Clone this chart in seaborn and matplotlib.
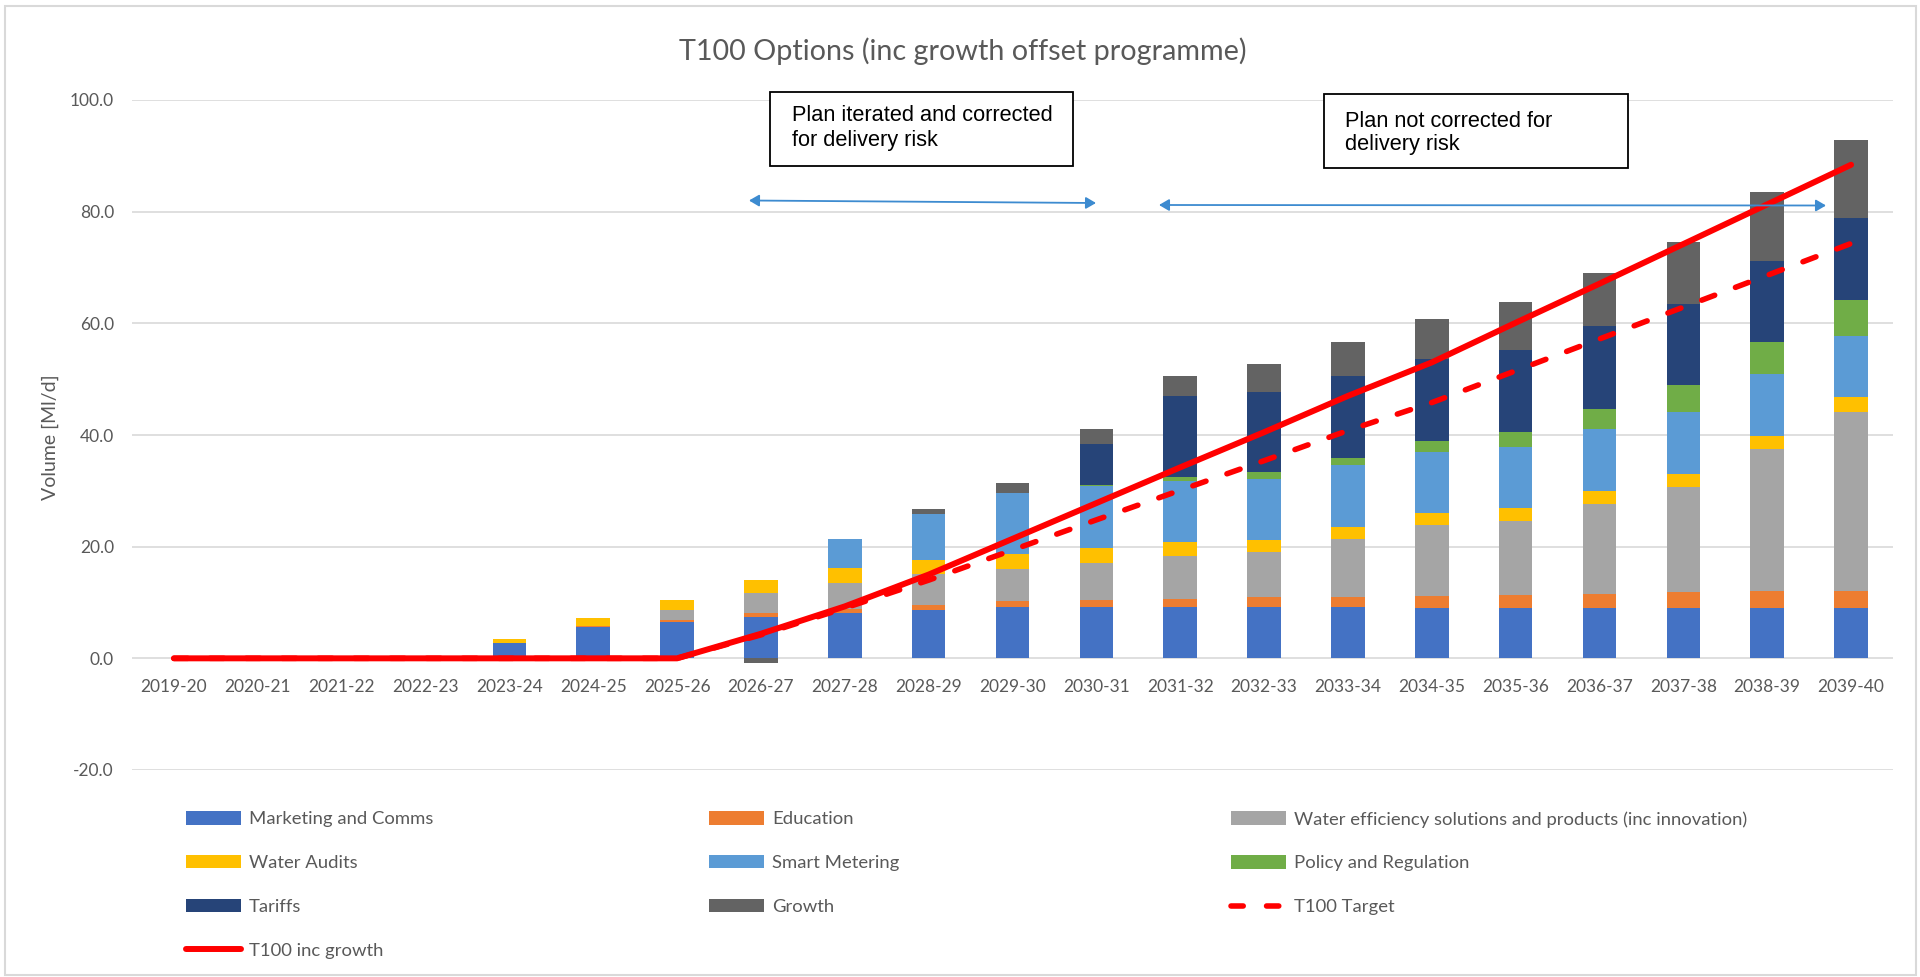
import numpy as np
import matplotlib
matplotlib.use("Agg")
import matplotlib.pyplot as plt
import seaborn as sns
from matplotlib.patches import Rectangle, Patch, FancyArrowPatch
from matplotlib.lines import Line2D
from matplotlib import font_manager as fm

# ---------------- data ----------------
years = ["2019-20", "2020-21", "2021-22", "2022-23", "2023-24", "2024-25", "2025-26",
         "2026-27", "2027-28", "2028-29", "2029-30", "2030-31", "2031-32", "2032-33",
         "2033-34", "2034-35", "2035-36", "2036-37", "2037-38", "2038-39", "2039-40"]

marketing = [0, 0, 0, 0, 2.7, 5.7, 6.5, 7.4, 8.1, 8.7, 9.15, 9.15, 9.15, 9.15, 9.15,
             9.1, 9.1, 9.1, 9.1, 9.1, 9.1]
education = [0, 0, 0, 0, 0, 0.15, 0.4, 0.7, 0.7, 0.9, 1.05, 1.3, 1.5, 1.75, 1.75,
             2.0, 2.2, 2.4, 2.7, 2.9, 2.9]
water_eff = [0, 0, 0, 0, 0, 0, 1.8, 3.6, 4.7, 5.5, 5.75, 6.55, 7.75, 8.1, 10.5,
             12.7, 13.3, 16.1, 18.9, 25.5, 32.1]
audits = [0, 0, 0, 0, 0.7, 1.35, 1.8, 2.3, 2.7, 2.6, 2.65, 2.7, 2.4, 2.25, 2.2,
          2.25, 2.3, 2.35, 2.3, 2.4, 2.7]
smart = [0, 0, 0, 0, 0, 0, 0, 0, 5.2, 8.1, 11.0, 11.2, 11.0, 10.95, 11.0,
         10.95, 11.0, 11.05, 11.1, 11.0, 10.9]
policy = [0, 0, 0, 0, 0, 0, 0, 0, 0, 0, 0, 0.2, 0.7, 1.1, 1.35,
          2.0, 2.7, 3.7, 4.8, 5.7, 6.4]
tariffs = [0, 0, 0, 0, 0, 0, 0, 0, 0, 0, 0, 7.25, 14.4, 14.45, 14.65,
           14.6, 14.7, 14.8, 14.5, 14.5, 14.7]
growth = [0, 0, 0, 0, 0, 0, 0, -0.9, 0, 0.9, 1.75, 2.65, 3.7, 4.9, 6.0,
          7.1, 8.5, 9.6, 11.2, 12.5, 14.1]

t100_target = [0, 0, 0, 0, 0, 0, 0, 4.2, 9.0, 14.0, 19.4, 24.8, 30.1, 35.4, 40.8,
               45.8, 51.5, 57.2, 62.9, 68.6, 74.3]
t100_growth = [0, 0, 0, 0, 0, 0, 0, 4.4, 9.3, 15.0, 21.4, 27.8, 34.2, 40.5, 47.0,
               53.0, 60.1, 67.1, 74.2, 81.3, 88.4]

series_labels = ["Marketing and Comms", "Education",
                 "Water efficiency solutions and products (inc innovation)",
                 "Water Audits", "Smart Metering", "Policy and Regulation",
                 "Tariffs", "Growth"]
series_values = [marketing, education, water_eff, audits, smart, policy, tariffs, growth]
series_colors = ["#4472C4", "#ED7D31", "#A5A5A5", "#FFC000", "#5B9BD5", "#70AD47",
                 "#264478", "#636363"]

title = "T100 Options (inc growth offset programme)"
y_label = "Volume [Ml/d]"
note_left = "Plan iterated and corrected\nfor delivery risk"
note_right = "Plan not corrected for\ndelivery risk"

# ---------------- style ----------------
sns.set_theme(style="white")
names = {f.name for f in fm.fontManager.ttflist}
UI = "Lato" if "Lato" in names else "DejaVu Sans"
ARIAL = "Liberation Sans" if "Liberation Sans" in names else "DejaVu Sans"
plt.rcParams["font.family"] = [UI, "DejaVu Sans"]

GREY_TXT = "#595959"
GRID = "#D9D9D9"
RED = "#FF0000"
ARROW = "#3D8BD0"

W, H = 1920, 977
fig = plt.figure(figsize=(W / 100, H / 100), dpi=100)


def fx(px):
    return px / W


def fy(py):
    return 1 - py / H


AX_L, AX_R, AX_T, AX_B = 132, 1893, 100, 770
ax = fig.add_axes([fx(AX_L), fy(AX_B), fx(AX_R) - fx(AX_L), fy(AX_T) - fy(AX_B)])


def axx(px):
    return (px - AX_L) / (AX_R - AX_L)


def axy(py):
    return (AX_B - py) / (AX_B - AX_T)


# ---------------- stacked bars ----------------
n = len(years)
pos_base = np.zeros(n)
neg_base = np.zeros(n)
for lab, vals, col in zip(series_labels, series_values, series_colors):
    v = np.asarray(vals, dtype=float)
    bottoms = np.where(v >= 0, pos_base, neg_base)
    sns.barplot(x=years, y=v, order=years, bottom=bottoms, color=col, saturation=1,
                width=0.4, errorbar=None, edgecolor="none", linewidth=0, ax=ax, zorder=2)
    pos_base += np.where(v > 0, v, 0)
    neg_base += np.where(v < 0, v, 0)

# ---------------- lines ----------------
sns.lineplot(x=years, y=t100_growth, color=RED, linewidth=4.3, sort=False,
             errorbar=None, solid_capstyle="round", ax=ax, zorder=5, legend=False)
sns.lineplot(x=years, y=t100_target, color=RED, linewidth=4.0, sort=False,
             errorbar=None, linestyle=(0, (2.5, 4.0)), dash_capstyle="round",
             ax=ax, zorder=6, legend=False)

# ---------------- axes ----------------
ax.set_xlim(-0.5, n - 0.5)
ax.set_ylim(-20, 100)
yt = np.arange(-20, 101, 20)
ax.set_yticks(yt)
ax.set_yticklabels([f"{v:.1f}" for v in yt])
ax.yaxis.grid(True, color=GRID, linewidth=1.2)
ax.xaxis.grid(False)
ax.set_axisbelow(True)
for s in ["left", "right", "top"]:
    ax.spines[s].set_visible(False)
ax.spines["bottom"].set_position(("data", 0))
ax.spines["bottom"].set_color("none")
ax.tick_params(axis="x", length=0, pad=15, labelsize=12.5, colors=GREY_TXT)
ax.tick_params(axis="y", length=0, pad=13, labelsize=12.5, colors=GREY_TXT)
ax.set_xlabel("")
ax.set_ylabel("")

fig.text(fx(50), fy(437), y_label, rotation=90, ha="center", va="center",
         fontsize=14, color=GREY_TXT)
fig.text(fx(963), fy(51), title, ha="center", va="center", fontsize=20.7,
         color=GREY_TXT)

# ---------------- annotations ----------------
for (x0, y0, x1, y1), txt, tx, ty, ls in [
        ((770, 92, 1073, 166), note_left, 792, 128, 1.3),
        ((1324, 94, 1628, 168), note_right, 1345, 133, 1.1)]:
    ax.add_patch(Rectangle((axx(x0), axy(y1)), axx(x1) - axx(x0), axy(y0) - axy(y1),
                           transform=ax.transAxes, facecolor="white", edgecolor="black",
                           linewidth=1.3, clip_on=False, zorder=7))
    ax.text(axx(tx), axy(ty), txt, transform=ax.transAxes, ha="left", va="center",
            fontsize=15.7, family=ARIAL, color="black", linespacing=ls, zorder=8,
            clip_on=False)

for (xa, ya, xb, yb) in [(749, 200.5, 1096, 203), (1159, 205, 1826, 205.5)]:
    ax.add_patch(FancyArrowPatch((axx(xa), axy(ya)), (axx(xb), axy(yb)),
                                 transform=ax.transAxes, arrowstyle="<|-|>,head_length=6,head_width=3.5",
                                 color=ARROW, linewidth=1.3, shrinkA=0, shrinkB=0,
                                 clip_on=False, zorder=7))

# ---------------- legend (3 columns, row-major like Excel) ----------------
handles = {lab: Patch(facecolor=col, edgecolor="none")
           for lab, col in zip(series_labels, series_colors)}
handles["T100 Target"] = Line2D([], [], color=RED, linewidth=4.0,
                                linestyle=(0, (2.2, 4.2)), dash_capstyle="round")
handles["T100 inc growth"] = Line2D([], [], color=RED, linewidth=4.3,
                                    solid_capstyle="round")
columns = [
    (186, ["Marketing and Comms", "Water Audits", "Tariffs", "T100 inc growth"]),
    (709, ["Education", "Smart Metering", "Growth"]),
    (1231, ["Water efficiency solutions and products (inc innovation)",
            "Policy and Regulation", "T100 Target"]),
]
for xpx, labs in columns:
    fig.legend([handles[l] for l in labs], labs, loc="upper left",
               bbox_to_anchor=(fx(xpx), fy(811)), frameon=False, borderpad=0,
               borderaxespad=0, handlelength=3.0, handleheight=0.75,
               handletextpad=0.42, labelspacing=1.5, fontsize=13.3,
               labelcolor=GREY_TXT)

# outer frame
fig.patches.append(Rectangle((fx(5), fy(975)), fx(1916) - fx(5), fy(6) - fy(975),
                             transform=fig.transFigure, fill=False,
                             edgecolor=GRID, linewidth=1.5))

fig.savefig("out.png", dpi=100)
